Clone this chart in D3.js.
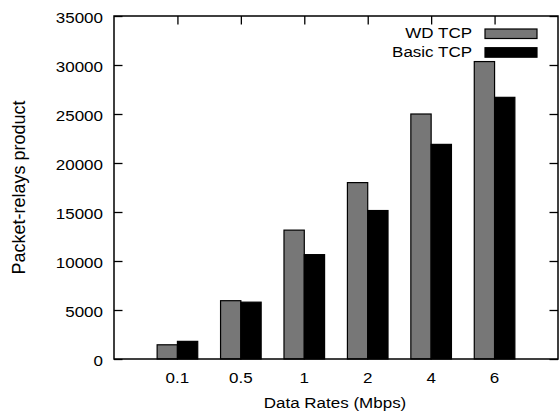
<!DOCTYPE html>
<html>
<head>
<meta charset="utf-8">
<script src="https://cdn.jsdelivr.net/npm/d3@7"></script>
<style>
  html, body { margin: 0; padding: 0; background: #fff; }
  svg { display: block; }
  text { font-family: "Liberation Sans", Arial, Helvetica, sans-serif; fill: #000; }
</style>
</head>
<body>
<svg id="chart" width="560" height="413"></svg>
<script>
const categories = ["0.1", "0.5", "1", "2", "4", "6"];
const seriesNames = ["WD TCP", "Basic TCP"];
const wdTCP = [1450, 5950, 13150, 18000, 25000, 30350];
const basicTCP = [1800, 5800, 10650, 15150, 21900, 26700];
const yTicks = [0, 5000, 10000, 15000, 20000, 25000, 30000, 35000];
const xTitle = "Data Rates (Mbps)";
const yTitle = "Packet-relays product";

const W = 560, H = 413;
const m = { left: 114, right: 2, top: 16, bottom: 54 };
const svg = d3.select("#chart");

const x = d3.scaleLinear().domain([-1, categories.length]).range([m.left, W - m.right]);
const y = d3.scaleLinear().domain([0, 35000]).range([H - m.bottom, m.top]);
const bw = 0.32;
const fills = ["#777777", "#000000"];
const series = [wdTCP, basicTCP];

// bars
series.forEach((vals, s) => {
  svg.append("g").selectAll("rect").data(vals).join("rect")
    .attr("x", (d, i) => s === 0 ? x(i - bw) : x(i))
    .attr("width", x(bw) - x(0))
    .attr("y", d => y(d))
    .attr("height", d => y(0) - y(d))
    .attr("fill", fills[s])
    .attr("stroke", "#000")
    .attr("stroke-width", 1.2);
});

// axes via d3 axis generators (ticks inward)
const tickLen = 8.5;
const yAxisL = d3.axisLeft(y).tickValues(yTicks).tickSize(-tickLen).tickFormat("");
const yAxisR = d3.axisRight(y).tickValues(yTicks).tickSize(-tickLen).tickFormat("");
const xAxisT = d3.axisTop(x).tickValues(d3.range(categories.length)).tickSize(-tickLen).tickFormat("");
[[yAxisL, `translate(${m.left},0)`], [yAxisR, `translate(${W - m.right},0)`], [xAxisT, `translate(0,${m.top})`]]
  .forEach(([ax, tr]) => {
    const g = svg.append("g").attr("transform", tr).call(ax);
    g.select(".domain").remove();
    g.selectAll("line").attr("stroke", "#000").attr("stroke-width", 1.3);
  });

// frame
svg.append("rect")
  .attr("x", m.left).attr("y", m.top)
  .attr("width", W - m.right - m.left).attr("height", H - m.bottom - m.top)
  .attr("fill", "none").attr("stroke", "#000").attr("stroke-width", 1.5);

// horizontal text helper (font slightly compressed vertically to match)
function htext(tx, ty, str, anchor) {
  svg.append("text")
    .attr("transform", `translate(${tx},${ty}) scale(1,0.88)`)
    .attr("text-anchor", anchor)
    .style("font-size", "17px")
    .text(str);
}

// y tick labels
yTicks.forEach(v => htext(m.left - 11, y(v) + 7, d3.format("d")(v), "end"));
// x tick labels
categories.forEach((c, i) => htext(x(i), 383, c, "middle"));
// axis titles
htext((m.left + W - m.right) / 2 - 1, 408, xTitle, "middle");
svg.append("text")
  .attr("transform", `translate(25,${(m.top + H - m.bottom) / 2}) rotate(-90)`)
  .attr("text-anchor", "middle")
  .style("font-size", "18px")
  .text(yTitle);

// legend
seriesNames.forEach((name, s) => {
  const base = 38.3 + s * 18.7;
  htext(472, base, name, "end");
  svg.append("rect")
    .attr("x", 485).attr("y", base - 9.3)
    .attr("width", 52).attr("height", 9.5)
    .attr("fill", fills[s]).attr("stroke", "#000").attr("stroke-width", 1.2);
});
</script>
</body>
</html>
